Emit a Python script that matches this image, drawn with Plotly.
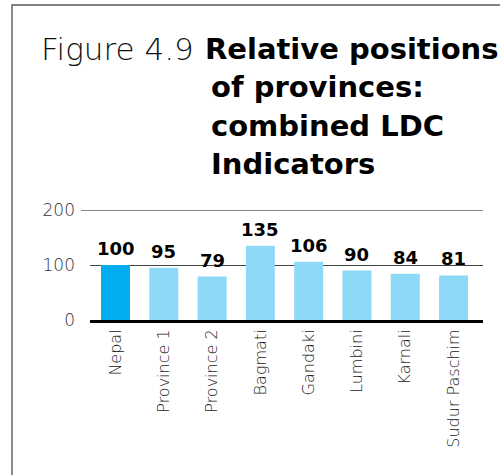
import plotly.graph_objects as go

categories = ["Nepal", "Province 1", "Province 2", "Bagmati", "Gandaki", "Lumbini", "Karnali", "Sudur Paschim"]
values = [100, 95, 79, 135, 106, 90, 84, 81]
bar_colors = ["#00AEEF"] + ["#8ED8F8"] * 7
y_ticks = [0, 100, 200]
title_light = "Figure 4.9"
title_bold_lines = ["Relative positions", "of provinces:", "combined LDC", "Indicators"]

W, H = 503, 476
L, R, T, B = 90, 20, 210, 156
PW, PH = W - L - R, H - T - B

def px(x):
    return (x - L) / PW

def py(y):
    return (H - B - y) / PH

LIGHT = "DejaVu Sans"
BOLD = "DejaVu Sans"

fig = go.Figure()
fig.add_trace(go.Bar(
    x=categories, y=values, marker=dict(color=bar_colors, line=dict(width=0)),
    width=0.6, hoverinfo="skip", showlegend=False,
))

annotations = []
for c, v in zip(categories, values):
    annotations.append(dict(
        x=c, y=v, xref="x", yref="y", text=f"<b>{v}</b>", showarrow=False,
        yanchor="bottom", yshift=4,
        font=dict(family=BOLD, size=18, color="#000000"),
    ))

annotations.append(dict(
    x=px(39), y=py(49), xref="paper", yref="paper", xanchor="left", yanchor="middle",
    text=title_light, showarrow=False,
    font=dict(family=LIGHT, size=31, color="#111111", weight=300),
))
line_x = [203, 209, 209, 209]
for i, line in enumerate(title_bold_lines):
    annotations.append(dict(
        x=px(line_x[i]), y=py(49 + 38.3 * i), xref="paper", yref="paper",
        xanchor="left", yanchor="middle", text=f"<b>{line}</b>", showarrow=False,
        font=dict(family=BOLD, size=29, color="#000000"),
    ))

frame_path = "M {a},{b} L {c},{d} L {e},{f}".format(
    a=px(12), b=py(H - 1), c=px(12), d=py(5), e=px(W - 3), f=py(5)
)

shapes = [
    # frame (left and top), open path
    dict(type="path", xref="paper", yref="paper", path=frame_path,
         line=dict(color="#5a5a5a", width=1.4), fillcolor="rgba(0,0,0,0)"),
    # top gridline extended to the left
    dict(type="line", xref="paper", yref="y", x0=px(81), x1=1, y0=200, y1=200,
         line=dict(color="#111111", width=1), layer="below"),
]

fig.update_layout(
    width=W, height=H, autosize=False,
    margin=dict(l=L, r=R, t=T, b=B, pad=0),
    paper_bgcolor="white", plot_bgcolor="white",
    annotations=annotations, shapes=shapes,
    xaxis=dict(
        type="category", categoryorder="array", categoryarray=categories,
        range=[-0.528, 7.61], tickangle=-90, showgrid=False,
        showline=True, linecolor="#000000", linewidth=3,
        ticks="", ticklabelstandoff=0,
        tickfont=dict(family=LIGHT, size=16, color="#222222", weight=300),
    ),
    yaxis=dict(
        range=[0, 200], tickvals=y_ticks, showgrid=True, gridcolor="#444444", gridwidth=1,
        zeroline=False, showline=False, ticks="", ticklabelstandoff=14,
        tickfont=dict(family=LIGHT, size=17, color="#333333", weight=300),
    ),
    bargap=0.4,
)

fig.write_html(
    "out.html",
    config={"displayModeBar": False, "staticPlot": True},
    post_script=(
        "document.documentElement.style.overflow='hidden';"
        "document.body.style.margin='0';document.body.style.padding='0';"
        "document.body.style.overflow='hidden';"
    ),
)
